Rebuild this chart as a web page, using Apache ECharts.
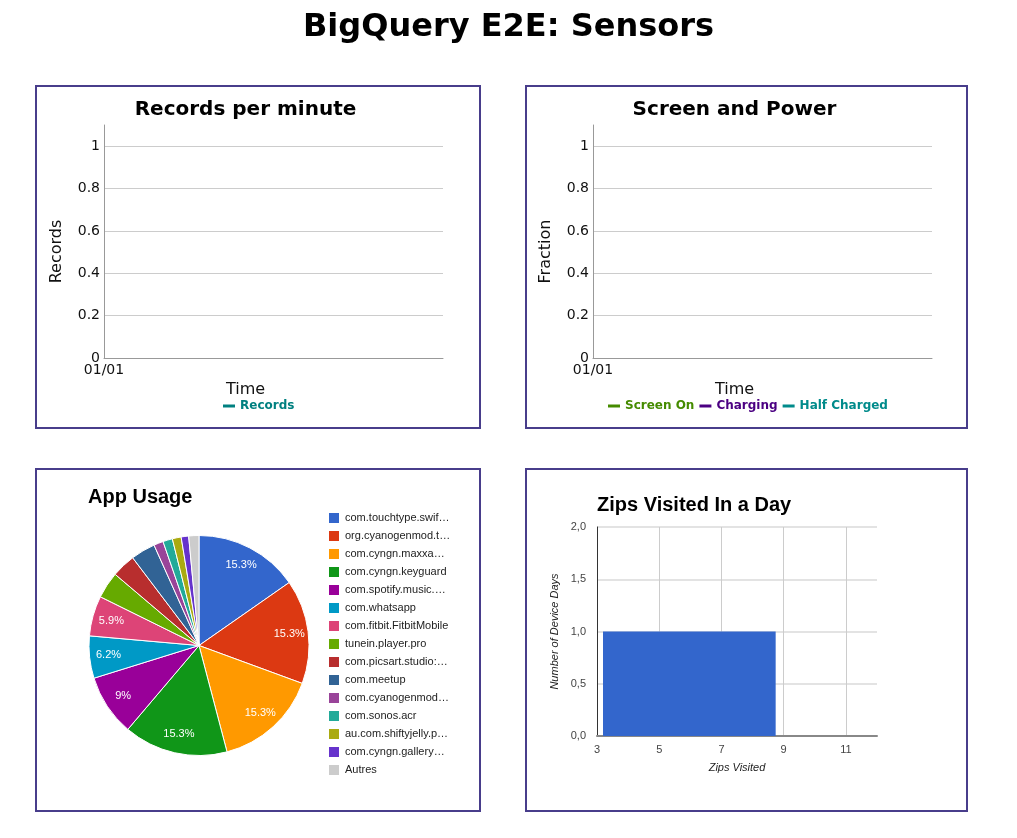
<!DOCTYPE html>
<html>
<head>
<meta charset="utf-8">
<script src="https://cdn.jsdelivr.net/npm/echarts@6/dist/echarts.min.js"></script>
<style>
  html, body { margin: 0; padding: 0; background: #fff; }
  #main { width: 1017px; height: 838px; }
</style>
</head>
<body>
<div id="main"></div>
<script>
// ---------- data ----------
const pageTitle = 'BigQuery E2E: Sensors';

const recordsTitle = 'Records per minute';
const recordsSeriesNames = ['Records'];
const recordsSeriesColors = ['#008080'];
const recordsTimes = [];     // no rows
const recordsValues = [];    // no rows

const powerTitle = 'Screen and Power';
const powerSeriesNames = ['Screen On', 'Charging', 'Half Charged'];
const powerSeriesColors = ['#458b00', '#4b0082', '#008b8b'];
const screenOnValues = [];
const chargingValues = [];
const halfChargedValues = [];

const timeTickLabels = ['01/01'];

const appTitle = 'App Usage';
const appNames = [
  'com.touchtype.swif\u2026', 'org.cyanogenmod.t\u2026', 'com.cyngn.maxxa\u2026',
  'com.cyngn.keyguard', 'com.spotify.music.\u2026', 'com.whatsapp',
  'com.fitbit.FitbitMobile', 'tunein.player.pro', 'com.picsart.studio:\u2026',
  'com.meetup', 'com.cyanogenmod\u2026', 'com.sonos.acr',
  'au.com.shiftyjelly.p\u2026', 'com.cyngn.gallery\u2026', 'Autres'
];
const appShares = [15.3, 15.3, 15.3, 15.3, 9, 6.2, 5.9, 3.9, 3.5, 3.6, 1.4, 1.4, 1.3, 1.1, 1.5];
const appColors = ['#3366cc', '#dc3912', '#ff9900', '#109618', '#990099', '#0099c6',
  '#dd4477', '#66aa00', '#b82e2e', '#316395', '#994499', '#22aa99', '#aaaa11', '#6633cc', '#cccccc'];

const zipTitle = 'Zips Visited In a Day';
const zipBinStarts = [3];
const zipBinEnds = [9];
const zipCounts = [1];
const zipYTickLabels = ['0,0', '0,5', '1,0', '1,5', '2,0'];

// ---------- chart ----------
const chart = echarts.init(document.getElementById('main'));
const DJ = 'DejaVu Sans';
const AR = 'Liberation Sans';
const border = '#483d8b';

function topYAxis(name, gridIndex) {
  return {
    type: 'value', gridIndex, min: 0, max: 1.1, interval: 0.2,
    name, nameLocation: 'middle', nameGap: 39,
    nameTextStyle: { fontFamily: DJ, fontSize: 16, color: '#111', padding: [0, 20, 0, 0] },
    axisLine: { show: true, lineStyle: { color: '#999', width: 1 } },
    axisTick: { show: false },
    axisLabel: { fontFamily: DJ, fontSize: 14, color: '#111', margin: 4, showMaxLabel: false,
      formatter: v => String(+v.toFixed(1)) },
    splitLine: { show: true, showMaxLine: false, lineStyle: { color: '#cccccc', width: 1 } }
  };
}
function topXAxis(gridIndex) {
  return {
    type: 'value', gridIndex, min: 0, max: 1, interval: 1,
    name: 'Time', nameLocation: 'middle', nameGap: 24,
    nameTextStyle: { fontFamily: DJ, fontSize: 16, color: '#111', padding: [0, 56, 0, 0] },
    axisLine: { show: true, lineStyle: { color: '#999', width: 1 } },
    axisTick: { show: false },
    axisLabel: { fontFamily: DJ, fontSize: 14, color: '#111', margin: 5, showMaxLabel: false,
      formatter: (v, i) => (timeTickLabels[i] !== undefined ? timeTickLabels[i] : '') },
    splitLine: { show: false }
  };
}

const option = {
  animation: false,
  backgroundColor: '#fff',
  title: [
    { text: pageTitle, left: 508.5, top: 28, textAlign: 'center', textVerticalAlign: 'middle', padding: 0,
      textStyle: { fontFamily: DJ, fontWeight: 'bold', fontSize: 32, color: '#000' } },
    { text: recordsTitle, left: 245.5, top: 110, textAlign: 'center', textVerticalAlign: 'middle', padding: 0,
      textStyle: { fontFamily: DJ, fontWeight: 'bold', fontSize: 20, color: '#000' } },
    { text: powerTitle, left: 734.5, top: 110, textAlign: 'center', textVerticalAlign: 'middle', padding: 0,
      textStyle: { fontFamily: DJ, fontWeight: 'bold', fontSize: 20, color: '#000' } },
    { text: appTitle, left: 88, top: 497, textAlign: 'left', textVerticalAlign: 'middle', padding: 0,
      textStyle: { fontFamily: AR, fontWeight: 'bold', fontSize: 20, color: '#000' } },
    { text: zipTitle, left: 597, top: 505, textAlign: 'left', textVerticalAlign: 'middle', padding: 0,
      textStyle: { fontFamily: AR, fontWeight: 'bold', fontSize: 20, color: '#000' } }
  ],
  graphic: { elements: [
    { type: 'rect', silent: true, z: -10, shape: { x: 36, y: 86, width: 444, height: 342 }, style: { fill: 'none', stroke: border, lineWidth: 2 } },
    { type: 'rect', silent: true, z: -10, shape: { x: 526, y: 86, width: 441, height: 342 }, style: { fill: 'none', stroke: border, lineWidth: 2 } },
    { type: 'rect', silent: true, z: -10, shape: { x: 36, y: 469, width: 444, height: 342 }, style: { fill: 'none', stroke: border, lineWidth: 2 } },
    { type: 'rect', silent: true, z: -10, shape: { x: 526, y: 469, width: 441, height: 342 }, style: { fill: 'none', stroke: border, lineWidth: 2 } }
  ] },
  legend: [
    { data: recordsSeriesNames.map((n, i) => ({ name: n, textStyle: { color: recordsSeriesColors[i] } })),
      left: 223, top: 400, padding: 0, itemGap: 5, icon: 'rect', itemWidth: 12, itemHeight: 3,
      selectedMode: false,
      textStyle: { fontFamily: DJ, fontWeight: 'bold', fontSize: 12 } },
    { data: powerSeriesNames.map((n, i) => ({ name: n, textStyle: { color: powerSeriesColors[i] } })),
      left: 608, top: 400, padding: 0, itemGap: 5, icon: 'rect', itemWidth: 12, itemHeight: 3,
      selectedMode: false,
      textStyle: { fontFamily: DJ, fontWeight: 'bold', fontSize: 12 } },
    { data: appNames, orient: 'vertical', left: 327, top: 511, padding: 0, itemGap: 4,
      icon: 'rect', itemWidth: 12, itemHeight: 12, selectedMode: false,
      textStyle: { fontFamily: AR, fontSize: 11, color: '#222' } }
  ],
  grid: [
    { left: 104, top: 125, width: 339, height: 233 },
    { left: 593, top: 125, width: 339, height: 233 },
    { left: 597, top: 527, width: 280, height: 209 }
  ],
  xAxis: [
    topXAxis(0),
    topXAxis(1),
    { type: 'value', gridIndex: 2, min: 3, max: 12, interval: 2,
      name: 'Zips Visited', nameLocation: 'middle', nameGap: 26,
      nameTextStyle: { fontFamily: AR, fontSize: 11, fontStyle: 'italic', color: '#222' },
      axisLine: { show: true, lineStyle: { color: '#888', width: 2 } },
      axisTick: { show: false },
      axisLabel: { fontFamily: AR, fontSize: 11, color: '#444', margin: 8, showMaxLabel: false },
      splitLine: { show: true, showMinLine: false, showMaxLine: false, lineStyle: { color: '#cccccc', width: 1 } } }
  ],
  yAxis: [
    topYAxis('Records', 0),
    topYAxis('Fraction', 1),
    { type: 'value', gridIndex: 2, min: 0, max: 2, interval: 0.5,
      name: 'Number of Device Days', nameLocation: 'middle', nameGap: 37,
      nameTextStyle: { fontFamily: AR, fontSize: 11, fontStyle: 'italic', color: '#222' },
      axisLine: { show: true, lineStyle: { color: '#333', width: 1 } },
      axisTick: { show: false },
      axisLabel: { fontFamily: AR, fontSize: 11, color: '#444', margin: 11,
        formatter: (v, i) => zipYTickLabels[i] },
      splitLine: { show: true, showMinLine: false, lineStyle: { color: '#e3e3e3', width: 2 } } }
  ],
  series: [
    { type: 'line', name: recordsSeriesNames[0], xAxisIndex: 0, yAxisIndex: 0, color: recordsSeriesColors[0],
      data: recordsTimes.map((t, i) => [t, recordsValues[i]]) },
    { type: 'line', name: powerSeriesNames[0], xAxisIndex: 1, yAxisIndex: 1, color: powerSeriesColors[0], data: screenOnValues },
    { type: 'line', name: powerSeriesNames[1], xAxisIndex: 1, yAxisIndex: 1, color: powerSeriesColors[1], data: chargingValues },
    { type: 'line', name: powerSeriesNames[2], xAxisIndex: 1, yAxisIndex: 1, color: powerSeriesColors[2], data: halfChargedValues },
    { type: 'pie', name: 'apps', center: [199, 645.5], radius: [0, 110], startAngle: 90, clockwise: true,
      avoidLabelOverlap: false,
      itemStyle: { borderColor: '#fff', borderWidth: 1 },
      label: { show: false }, labelLine: { show: false }, emphasis: { disabled: true },
      data: appNames.map((n, i) => ({ name: n, value: appShares[i], itemStyle: { color: appColors[i] } })) },
    { type: 'pie', name: 'apps-labels', center: [199, 645.5], radius: [66, 110], startAngle: 90, clockwise: true,
      silent: true, z: 5, avoidLabelOverlap: false,
      itemStyle: { color: 'rgba(0,0,0,0)', borderWidth: 0 },
      label: { show: true, position: 'inside', color: '#fff', fontFamily: AR, fontSize: 11,
        formatter: p => (p.percent >= 5 ? (+p.percent.toFixed(1)) + '%' : '') },
      labelLine: { show: false }, emphasis: { disabled: true },
      data: appNames.map((n, i) => ({ name: n, value: appShares[i] })) },
    { type: 'custom', name: 'Zips', xAxisIndex: 2, yAxisIndex: 2,
      encode: { x: [0, 1], y: 2 },
      data: zipBinStarts.map((s, i) => [s, zipBinEnds[i], zipCounts[i]]),
      renderItem: function (params, api) {
        const p0 = api.coord([api.value(0), 0]);
        const p1 = api.coord([api.value(1), api.value(2)]);
        return { type: 'rect',
          shape: { x: p0[0] + 6, y: p1[1], width: (p1[0] - p0[0]) - 14, height: p0[1] - p1[1] },
          style: { fill: '#3366cc' } };
      } }
  ]
};
chart.setOption(option);
</script>
</body>
</html>
